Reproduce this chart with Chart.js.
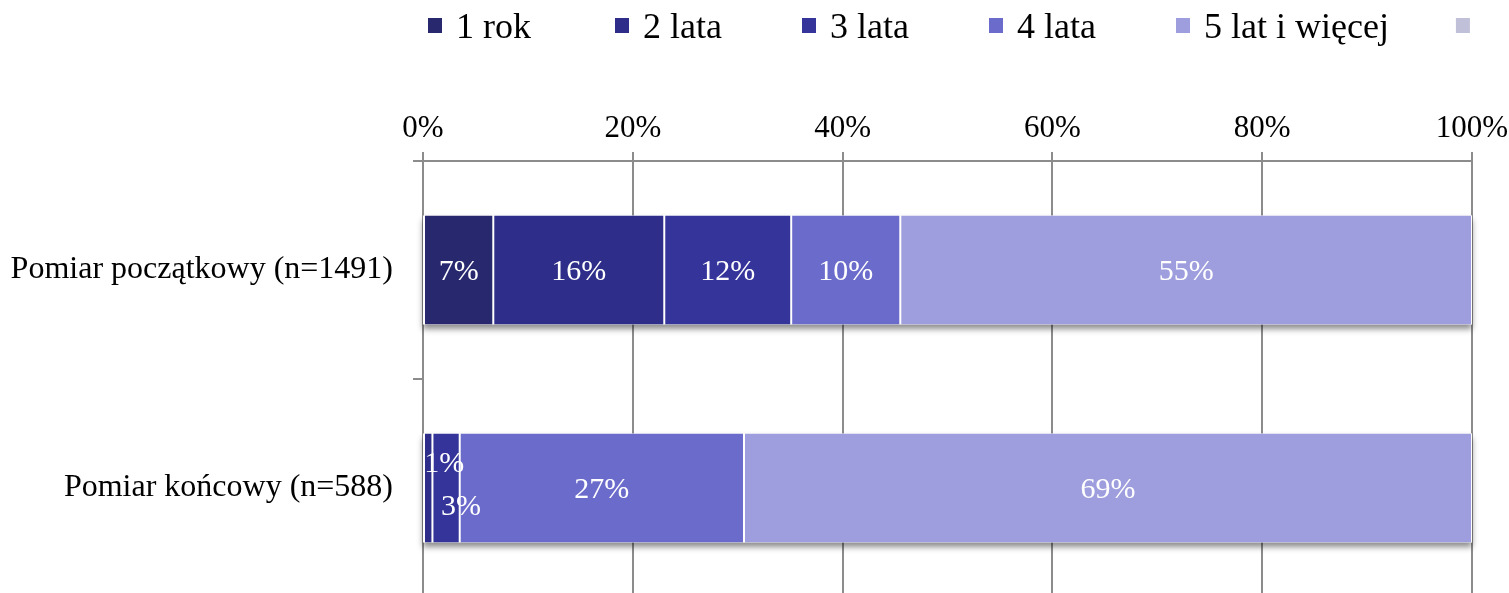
<!DOCTYPE html>
<html lang="pl">
<head>
  <meta charset="UTF-8" />
  <title>Staż</title>
  <script src="https://cdn.jsdelivr.net/npm/chart.js"></script>
  <style>
    html, body {
      margin: 0;
      padding: 0;
      background: #fff;
      overflow: hidden;
    }
    #chart-container {
      position: relative;
      width: 1509px;
      height: 597px;
    }
  </style>
</head>
<body>
  <div id="chart-container">
    <canvas id="stazChart"></canvas>
  </div>

  <script>
    // kategorie (oś Y)
    const categories = ['Pomiar początkowy (n=1491)', 'Pomiar końcowy (n=588)'];

    // serie - udział procentowy
    const seriesNames = ['1 rok', '2 lata', '3 lata', '4 lata', '5 lat i więcej', ''];
    const rok1 = [6.7, 0];
    const lata2 = [16.3, 0.9];
    const lata3 = [12.1, 2.6];
    const lata4 = [10.4, 27.1];
    const lat5 = [54.5, 69.4];
    const brak = [0, 0];

    // oś X
    const xTicks = [0, 20, 40, 60, 80, 100];

    const colors = ['#28286f', '#2e2e8a', '#34349a', '#6b6bcc', '#9e9ddd', '#c0c0d8'];
    const serif = "'Liberation Serif', 'Times New Roman', serif";
    const gridColor = '#8c8c8c';

    const seriesData = [rok1, lata2, lata3, lata4, lat5, brak];

    // legenda rysowana ręcznie (w stylu Excela)
    const topLegend = {
      id: 'topLegend',
      afterDraw(chart) {
        const ctx = chart.ctx;
        ctx.save();
        ctx.font = '36px ' + serif;
        ctx.textBaseline = 'alphabetic';
        let x = chart.chartArea.left + 5;
        chart.data.datasets.forEach(ds => {
          ctx.fillStyle = ds.backgroundColor;
          ctx.fillRect(x, 18, 14, 15);
          ctx.fillStyle = '#000';
          ctx.fillText(ds.label, x + 28, 38);
          const w = ctx.measureText(ds.label).width;
          x += Math.max(187, 28 + w + 67);
        });
        ctx.restore();
      }
    };

    // cień pod słupkami
    const barShadow = {
      id: 'barShadow',
      beforeDatasetsDraw(chart) {
        const ctx = chart.ctx;
        const xs = chart.scales.x;
        const meta = chart.getDatasetMeta(0);
        ctx.save();
        ctx.shadowColor = 'rgba(0,0,0,0.45)';
        ctx.shadowBlur = 6;
        ctx.shadowOffsetY = 4;
        ctx.fillStyle = '#fff';
        meta.data.forEach((el, i) => {
          const total = seriesData.reduce((s, arr) => s + arr[i], 0);
          const x0 = xs.getPixelForValue(0);
          const x1 = xs.getPixelForValue(total);
          ctx.fillRect(x0, el.y - el.height / 2, x1 - x0, el.height);
        });
        ctx.restore();
      }
    };

    // etykiety danych (małe wartości przesunięte jak w oryginale)
    const nudge = {1: [16, -26], 2: [15, 17]};
    const barLabels = {
      id: 'barLabels',
      afterDatasetsDraw(chart) {
        const ctx = chart.ctx;
        ctx.save();
        ctx.font = '30px ' + serif;
        ctx.fillStyle = '#fff';
        ctx.textAlign = 'center';
        ctx.textBaseline = 'middle';
        chart.data.datasets.forEach((ds, di) => {
          const meta = chart.getDatasetMeta(di);
          meta.data.forEach((el, i) => {
            const v = ds.data[i];
            if (!v) return;
            let x = (el.x + el.base) / 2;
            let y = el.y + 2;
            if (v < 5 && nudge[di]) {
              x += nudge[di][0];
              y += nudge[di][1];
            }
            ctx.fillText(Math.round(v) + '%', x, y);
          });
        });
        ctx.restore();
      }
    };

    const ctx = document.getElementById('stazChart').getContext('2d');

    new Chart(ctx, {
      type: 'bar',
      data: {
        labels: categories,
        datasets: seriesData.map((arr, i) => ({
          label: seriesNames[i],
          data: arr,
          backgroundColor: colors[i],
          borderColor: '#ffffff',
          borderWidth: {left: 1, right: 1, top: 0, bottom: 0},
          borderSkipped: false,
          categoryPercentage: 1,
          barPercentage: 0.5
        }))
      },
      options: {
        indexAxis: 'y',
        responsive: true,
        maintainAspectRatio: false,
        animation: false,
        layout: {
          padding: {top: 60, right: 37, left: 0, bottom: 0}
        },
        plugins: {
          legend: { display: false },
          tooltip: { enabled: false }
        },
        scales: {
          x: {
            position: 'top',
            stacked: true,
            min: 0,
            max: 100,
            afterBuildTicks: (s) => { s.ticks = xTicks.map(v => ({value: v})); },
            afterFit: (s) => { s.height = 101; s.paddingLeft = 0; s.paddingRight = 0; },
            ticks: {
              color: '#000',
              padding: 5,
              font: { family: serif, size: 31 },
              callback: (v) => v + '%'
            },
            grid: {
              color: gridColor,
              lineWidth: 2,
              tickLength: 9
            },
            border: { display: true, color: gridColor, width: 2 }
          },
          y: {
            stacked: true,
            afterFit: (s) => { s.width = 423; s.paddingTop = 0; s.paddingBottom = 0; },
            ticks: {
              color: '#000',
              padding: 20,
              font: { family: serif, size: 32 }
            },
            grid: {
              offset: true,
              drawOnChartArea: false,
              color: gridColor,
              lineWidth: 2,
              tickLength: 10
            },
            border: { display: true, color: gridColor, width: 2 }
          }
        }
      },
      plugins: [barShadow, barLabels, topLegend]
    });
  </script>
</body>
</html>
